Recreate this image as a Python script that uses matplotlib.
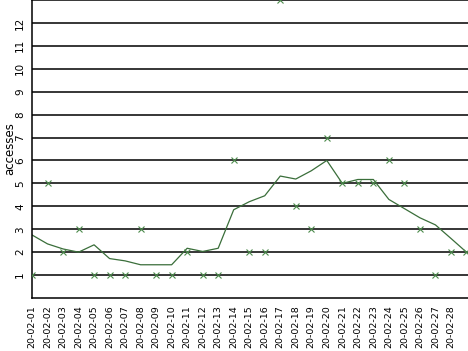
import matplotlib
matplotlib.use("Agg")
import matplotlib.pyplot as plt

# daily accesses, Feb 2020 (day 29 drawn but not labelled)
days = list(range(1, 30))
daily = [1, 5, 2, 3, 1, 1, 1, 3, 1, 1, 2, 1, 1, 6, 2, 2, 13, 4, 3, 7,
         5, 5, 5, 6, 5, 3, 1, 2, 2]
trend = [2.75, 2.36, 2.14, 2.0, 2.32, 1.72, 1.62, 1.45, 1.45, 1.45,
         2.17, 2.03, 2.17, 3.85, 4.2, 4.46, 5.32, 5.19, 5.55, 6.0,
         5.0, 5.17, 5.17, 4.3, 3.9, 3.5, 3.19, 2.6, 2.0]
tick_labels = ["20-02-%02d" % d for d in range(1, 29)]

GREEN = "#3a6e3a"


def main():
    fig = plt.figure(figsize=(4.68, 3.51), dpi=100)
    ax = fig.add_axes([32 / 468, 53 / 351, 436 / 468, 298 / 351])

    for v in range(1, 13):
        ax.axhline(v, color="black", lw=1.1, zorder=1)

    ax.plot(days, trend, color=GREEN, lw=0.9, zorder=2)
    ax.plot(days, daily, ls="none", marker="x", ms=4, mew=0.8,
            color="#4c8a4c", zorder=3)

    ax.set_xlim(1, 29.1)
    ax.set_ylim(0, 13)
    ax.set_xticks(range(1, 29))
    ax.set_xticklabels(tick_labels, rotation=90, fontsize=6.8)
    ax.set_yticks(range(1, 13))
    ax.set_yticklabels([str(v) for v in range(1, 13)], rotation=90,
                       fontsize=7.5, va="center")
    ax.tick_params(length=0, pad=5)
    ax.set_ylabel("accesses", fontsize=8.5, va="center")
    ax.yaxis.set_label_coords(-22 / 436, 0.5)

    for side in ["left", "bottom", "top"]:
        ax.spines[side].set_linewidth(1.1)
    ax.spines["right"].set_visible(False)

    fig.savefig("out.png", dpi=100)


if __name__ == "__main__":
    main()
